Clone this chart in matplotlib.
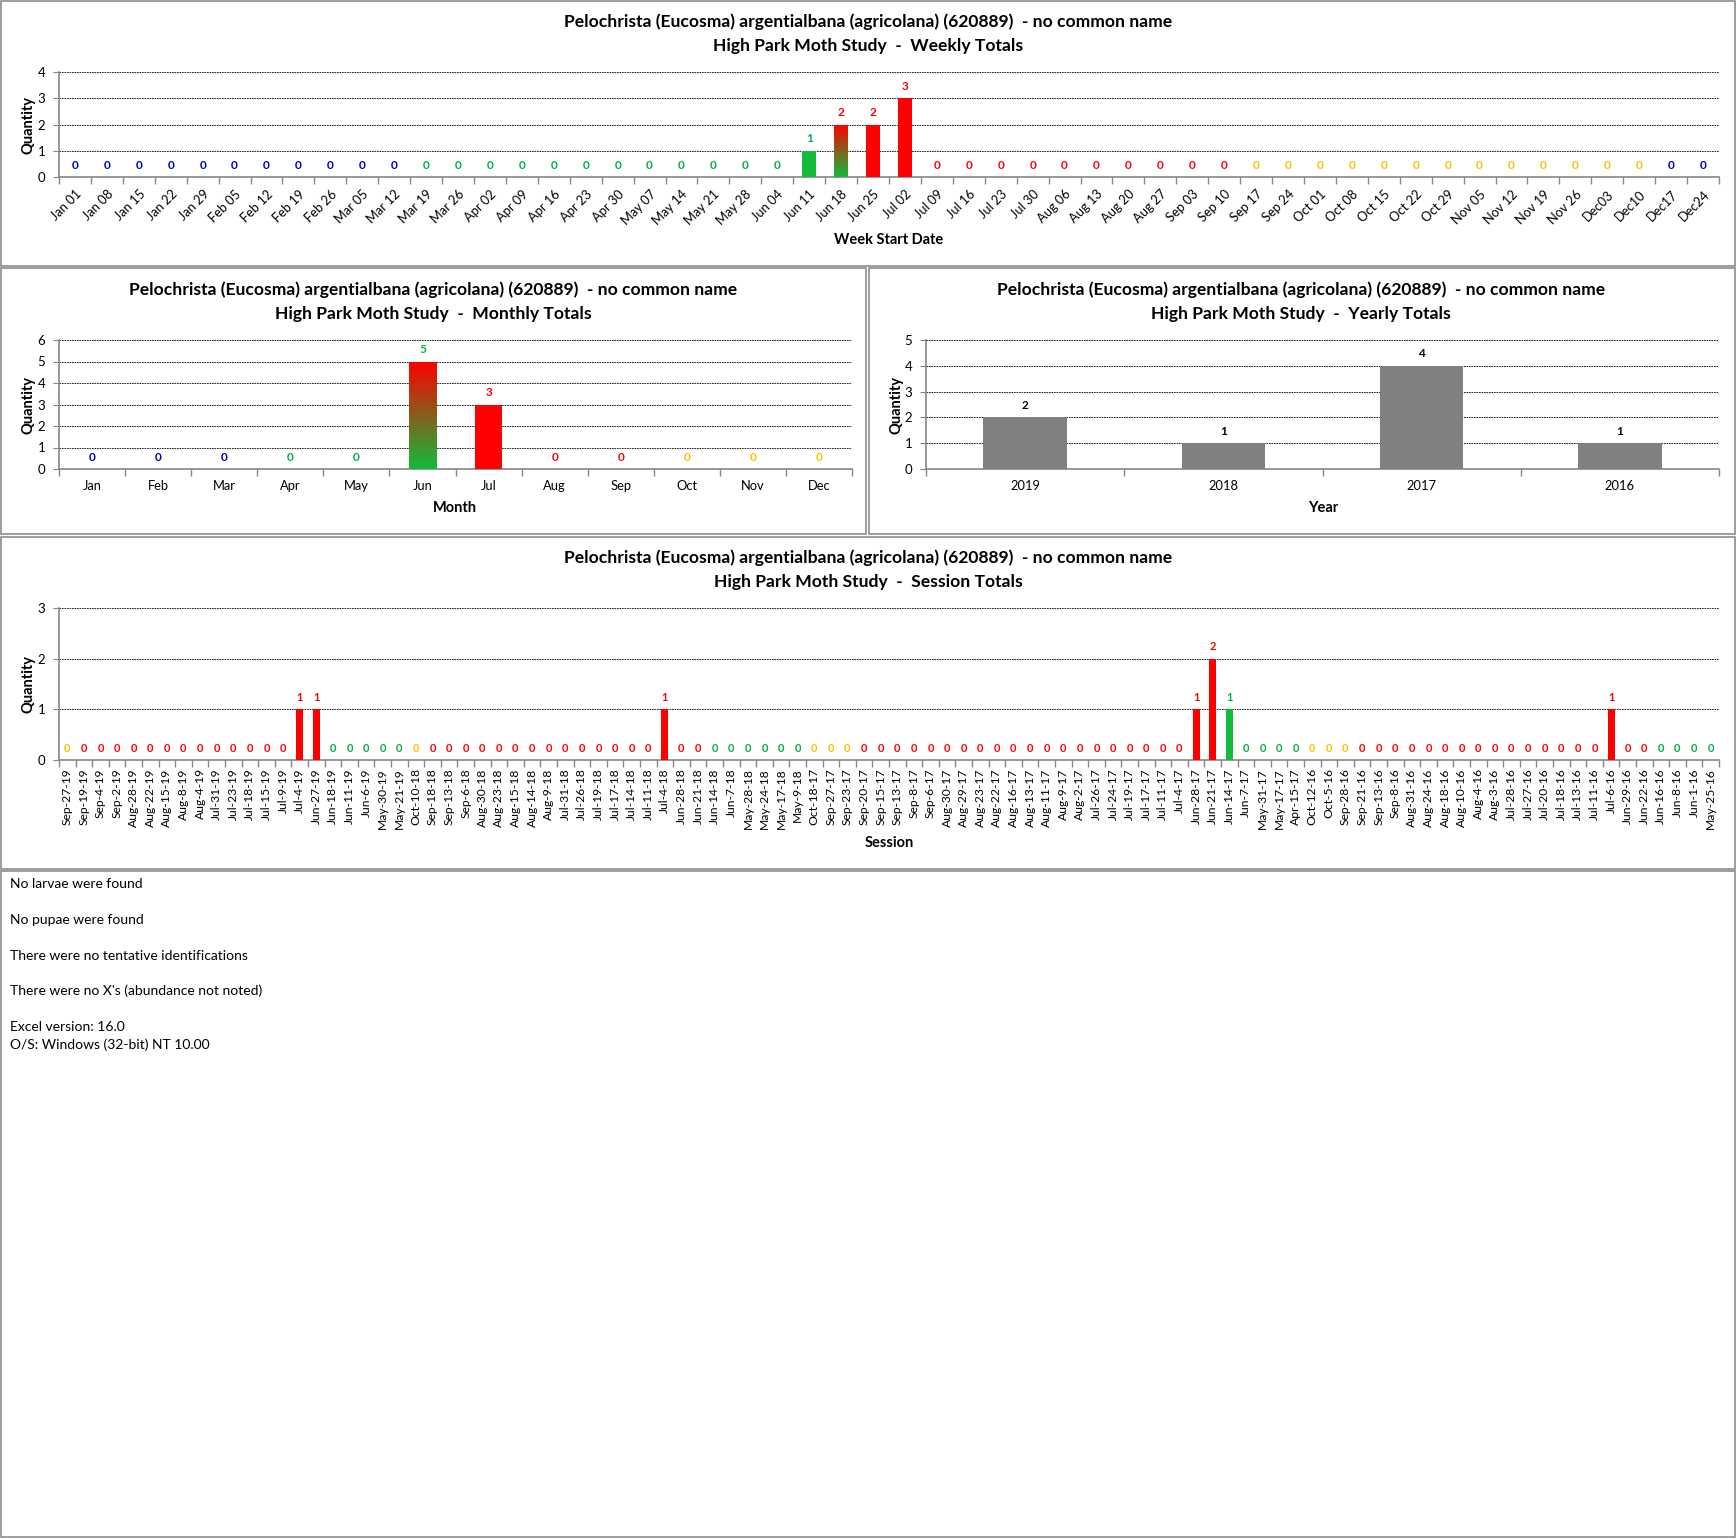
import matplotlib.pyplot as plt
import numpy as np
from matplotlib.colors import LinearSegmentedColormap
from matplotlib.patches import Rectangle

plt.rcParams['font.family'] = ['Lato', 'DejaVu Sans']

W, H = 1736, 1538

title1 = 'Pelochrista (Eucosma) argentialbana (agricolana) (620889)  - no common name'

# weekly totals
week_labels = ['Jan 01', 'Jan 08', 'Jan 15', 'Jan 22', 'Jan 29', 'Feb 05', 'Feb 12', 'Feb 19',
               'Feb 26', 'Mar 05', 'Mar 12', 'Mar 19', 'Mar 26', 'Apr 02', 'Apr 09', 'Apr 16',
               'Apr 23', 'Apr 30', 'May 07', 'May 14', 'May 21', 'May 28', 'Jun 04', 'Jun 11',
               'Jun 18', 'Jun 25', 'Jul 02', 'Jul 09', 'Jul 16', 'Jul 23', 'Jul 30', 'Aug 06',
               'Aug 13', 'Aug 20', 'Aug 27', 'Sep 03', 'Sep 10', 'Sep 17', 'Sep 24', 'Oct 01',
               'Oct 08', 'Oct 15', 'Oct 22', 'Oct 29', 'Nov 05', 'Nov 12', 'Nov 19', 'Nov 26',
               'Dec03', 'Dec10', 'Dec17', 'Dec24']
week_counts = [0, 0, 0, 0, 0, 0, 0, 0, 0, 0, 0, 0, 0, 0, 0, 0, 0, 0, 0, 0, 0, 0, 0, 1,
               2, 2, 3, 0, 0, 0, 0, 0, 0, 0, 0, 0, 0, 0, 0, 0, 0, 0, 0, 0, 0, 0, 0, 0,
               0, 0, 0, 0]
# b=winter blue, g=spring green, r=summer red, y=fall yellow, m/n=mixed (gradient)
week_codes = list('bbbbbbbbbbbggggggggggggg' + 'mrrrrrrrrrrrryyyyyyyyyyyyybb')

# monthly totals
month_labels = ['Jan', 'Feb', 'Mar', 'Apr', 'May', 'Jun', 'Jul', 'Aug', 'Sep', 'Oct', 'Nov', 'Dec']
month_counts = [0, 0, 0, 0, 0, 5, 3, 0, 0, 0, 0, 0]
month_codes = list('bbbggnrrryyy')

# yearly totals
year_labels = ['2019', '2018', '2017', '2016']
year_counts = [2, 1, 4, 1]

# session totals
session_labels = ['Sep-27-19', 'Sep-19-19', 'Sep-4-19', 'Sep-2-19', 'Aug-28-19', 'Aug-22-19',
                  'Aug-15-19', 'Aug-8-19', 'Aug-4-19', 'Jul-31-19', 'Jul-23-19', 'Jul-18-19',
                  'Jul-15-19', 'Jul-9-19', 'Jul-4-19', 'Jun-27-19', 'Jun-18-19', 'Jun-11-19',
                  'Jun-6-19', 'May-30-19', 'May-21-19', 'Oct-10-18', 'Sep-18-18', 'Sep-13-18',
                  'Sep-6-18', 'Aug-30-18', 'Aug-23-18', 'Aug-15-18', 'Aug-14-18', 'Aug-9-18',
                  'Jul-31-18', 'Jul-26-18', 'Jul-19-18', 'Jul-17-18', 'Jul-14-18', 'Jul-11-18',
                  'Jul-4-18', 'Jun-28-18', 'Jun-21-18', 'Jun-14-18', 'Jun-7-18', 'May-28-18',
                  'May-24-18', 'May-17-18', 'May-9-18', 'Oct-18-17', 'Sep-27-17', 'Sep-23-17',
                  'Sep-20-17', 'Sep-15-17', 'Sep-13-17', 'Sep-8-17', 'Sep-6-17', 'Aug-30-17',
                  'Aug-29-17', 'Aug-23-17', 'Aug-22-17', 'Aug-16-17', 'Aug-13-17', 'Aug-11-17',
                  'Aug-9-17', 'Aug-2-17', 'Jul-26-17', 'Jul-24-17', 'Jul-19-17', 'Jul-17-17',
                  'Jul-11-17', 'Jul-4-17', 'Jun-28-17', 'Jun-21-17', 'Jun-14-17', 'Jun-7-17',
                  'May-31-17', 'May-17-17', 'Apr-15-17', 'Oct-12-16', 'Oct-5-16', 'Sep-28-16',
                  'Sep-21-16', 'Sep-13-16', 'Sep-8-16', 'Aug-31-16', 'Aug-24-16', 'Aug-18-16',
                  'Aug-10-16', 'Aug-4-16', 'Aug-3-16', 'Jul-28-16', 'Jul-27-16', 'Jul-20-16',
                  'Jul-18-16', 'Jul-13-16', 'Jul-11-16', 'Jul-6-16', 'Jun-29-16', 'Jun-22-16',
                  'Jun-16-16', 'Jun-8-16', 'Jun-1-16', 'May-25-16']
session_counts = [0, 0, 0, 0, 0, 0, 0, 0, 0, 0, 0, 0, 0, 0, 1, 1, 0, 0, 0, 0,
                  0, 0, 0, 0, 0, 0, 0, 0, 0, 0, 0, 0, 0, 0, 0, 0, 1, 0, 0, 0,
                  0, 0, 0, 0, 0, 0, 0, 0, 0, 0, 0, 0, 0, 0, 0, 0, 0, 0, 0, 0,
                  0, 0, 0, 0, 0, 0, 0, 0, 1, 2, 1, 0, 0, 0, 0, 0, 0, 0, 0, 0,
                  0, 0, 0, 0, 0, 0, 0, 0, 0, 0, 0, 0, 0, 1, 0, 0, 0, 0, 0, 0]
session_codes = list('yrrrrrrrrr' 'rrrrrrgggg' 'gyrrrrrrrr' 'rrrrrrrrrg' 'gggggyyyrr'
                     'rrrrrrrrrr' 'rrrrrrrrrr' 'gggggyyyrr' 'rrrrrrrrrr' 'rrrrrrgggg')

notes = ['No larvae were found', 'No pupae were found',
         'There were no tentative identifications',
         "There were no X's (abundance not noted)"]
version_lines = ['Excel version: 16.0', 'O/S: Windows (32-bit) NT 10.00']

BLUE = '#0000C0'
GREEN = '#00B050'
RED = '#FF0000'
YELLOW = '#FFC000'
bar_green = '#10BC3A'
# code -> (bar fill, label colour)
palette = {'b': (BLUE, BLUE), 'g': (bar_green, GREEN), 'r': (RED, RED),
           'y': (YELLOW, YELLOW), 'm': ('grad', RED), 'n': ('grad', GREEN)}
grn_red = LinearSegmentedColormap.from_list('gr', [bar_green, '#FF0000'])

fig = plt.figure(figsize=(W / 100, H / 100), dpi=100)


def px_rect(l, t, r, b):
    return [l / W, 1 - b / H, (r - l) / W, (b - t) / H]


def fig_text(x, y, s, **kw):
    fig.text(x / W, 1 - y / H, s, **kw)


# panel frames
for l, t, r, b in [(1, 1, 1735, 266), (1, 268, 866, 534), (869, 268, 1735, 534),
                   (1, 537, 1735, 869), (1, 871, 1735, 1537)]:
    fig.patches.append(Rectangle((l / W, 1 - b / H), (r - l) / W, (b - t) / H,
                                 transform=fig.transFigure, fill=False,
                                 edgecolor='#8C8C8C', lw=1.2))


def draw_chart(rect, labels, counts, codes, ymax, rot, tick_fs, lab_fs):
    ax = fig.add_axes(rect)
    n = len(counts)
    x = np.arange(n)
    if codes is None:
        fills = ['#808080'] * n
        lcols = ['black'] * n
    else:
        fills = [palette[c][0] for c in codes]
        lcols = [palette[c][1] for c in codes]
    bars = ax.bar(x, counts, width=0.42, color=[f if f != 'grad' else 'none' for f in fills],
                  zorder=3)
    for p, f in zip(bars, fills):
        if f == 'grad':
            x0, w, h = p.get_x(), p.get_width(), p.get_height()
            grad = np.linspace(0, 1, 256).reshape(-1, 1)
            im = ax.imshow(grad, cmap=grn_red, origin='lower', aspect='auto',
                           extent=[x0, x0 + w, 0, h], zorder=3)
            im.set_clip_path(p)
    for i, v in enumerate(counts):
        ax.annotate(str(v), (i, v), xytext=(0, 8.5), textcoords='offset points',
                    ha='center', va='center', color=lcols[i], fontsize=lab_fs,
                    fontweight='bold', zorder=4)
    ax.set_xlim(-0.5, n - 0.5)
    ax.set_ylim(0, ymax)
    ax.set_yticks(range(ymax + 1))
    for y in range(1, ymax + 1):
        ax.axhline(y, color='black', lw=0.6, ls=(0, (2, 1)), zorder=1)
    ax.set_xticks(x)
    ax.set_xticks(np.arange(-0.5, n, 1), minor=True)
    if rot == 45:
        ax.set_xticklabels(labels, rotation=45, ha='right', rotation_mode='anchor',
                           fontsize=tick_fs)
    elif rot == 90:
        ax.set_xticklabels(labels, rotation=90, ha='center', va='top', fontsize=tick_fs)
    else:
        ax.set_xticklabels(labels, fontsize=tick_fs)
    ax.tick_params(axis='x', which='major', length=0, pad=8 if rot != 90 else 6)
    ax.tick_params(axis='x', which='minor', length=5, color='#868686', width=1)
    ax.tick_params(axis='y', length=4, color='#868686', labelsize=9.5, pad=6)
    for s in ['top', 'right']:
        ax.spines[s].set_visible(False)
    for s in ['left', 'bottom']:
        ax.spines[s].set_color('#868686')
        ax.spines[s].set_linewidth(1.2)
    ax.set_facecolor('none')
    return ax


title_kw = dict(ha='center', va='center', fontsize=12.6, fontweight='bold')
axis_kw = dict(ha='center', va='center', fontsize=10.5, fontweight='bold')

# weekly
draw_chart(px_rect(59, 72, 1719, 177), week_labels, week_counts, week_codes, 4, 45, 9.3, 8.5)
fig_text(868, 22, title1, **title_kw)
fig_text(868, 46, 'High Park Moth Study  -  Weekly Totals', **title_kw)
fig_text(889, 240, 'Week Start Date', **axis_kw)
fig_text(28, 125, 'Quantity', rotation=90, **axis_kw)

# monthly
draw_chart(px_rect(59, 340, 852, 469), month_labels, month_counts, month_codes, 6, 0, 9.3, 8.5)
fig_text(433, 290, title1, **title_kw)
fig_text(433, 314, 'High Park Moth Study  -  Monthly Totals', **title_kw)
fig_text(455, 508, 'Month', **axis_kw)
fig_text(28, 405, 'Quantity', rotation=90, **axis_kw)

# yearly
draw_chart(px_rect(926, 340, 1719, 469), year_labels, year_counts, None, 5, 0, 9.3, 8.5)
fig_text(1301, 290, title1, **title_kw)
fig_text(1301, 314, 'High Park Moth Study  -  Yearly Totals', **title_kw)
fig_text(1323, 508, 'Year', **axis_kw)
fig_text(896, 405, 'Quantity', rotation=90, **axis_kw)

# session
draw_chart(px_rect(59, 608, 1719, 760), session_labels, session_counts, session_codes,
           3, 90, 8.7, 8)
fig_text(868, 558, title1, **title_kw)
fig_text(868, 582, 'High Park Moth Study  -  Session Totals', **title_kw)
fig_text(889, 843, 'Session', **axis_kw)
fig_text(28, 684, 'Quantity', rotation=90, **axis_kw)

# notes below charts
for s, y in zip(notes, [884, 920, 956, 991]):
    fig_text(10, y, s, ha='left', va='center', fontsize=10)
for s, y in zip(version_lines, [1027, 1045]):
    fig_text(10, y, s, ha='left', va='center', fontsize=10)

fig.savefig('out.png', dpi=100, facecolor='white')
